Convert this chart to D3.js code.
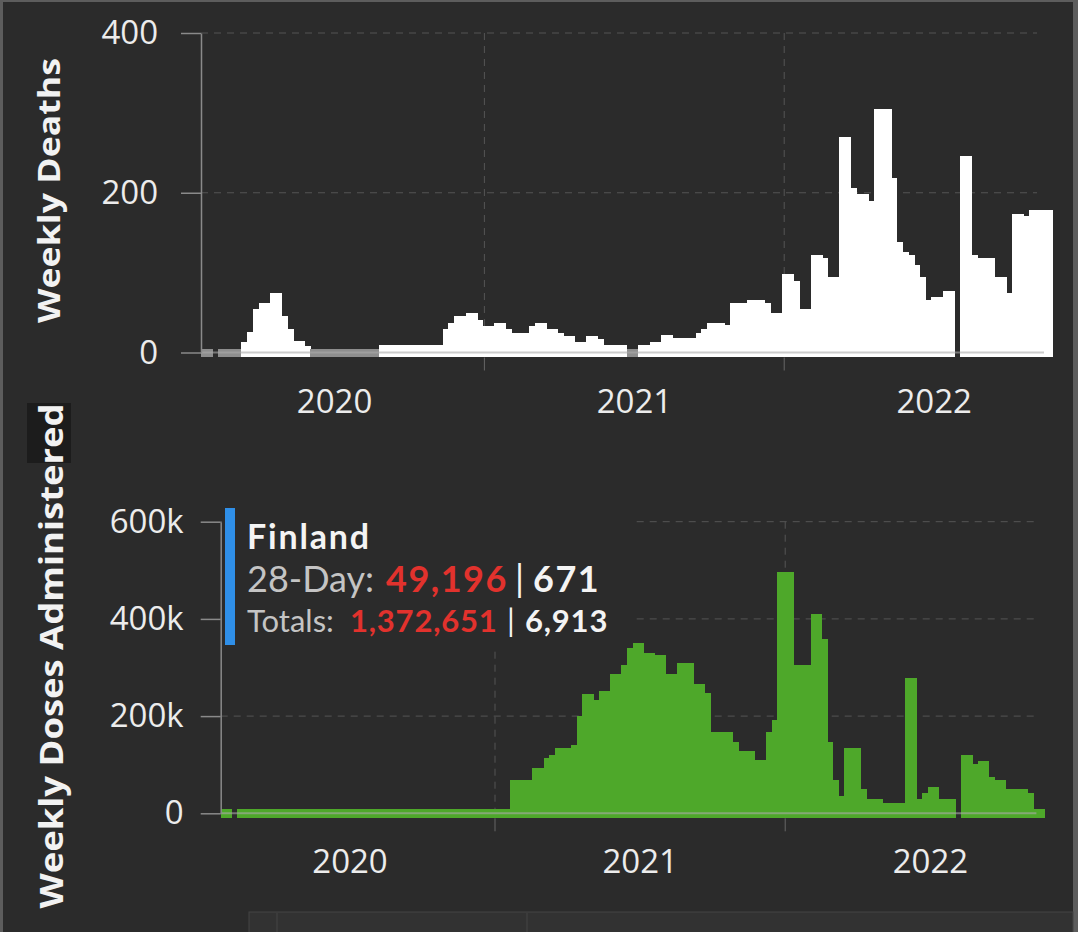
<!DOCTYPE html>
<html>
<head>
<meta charset="utf-8">
<script src="https://cdn.jsdelivr.net/npm/d3@7"></script>
<style>
    html, body { margin: 0; padding: 0; background: #5d5d5d; }
    svg { display: block; font-family: "Open Sans", sans-serif; }
</style>
</head>
<body>
<svg width="1078" height="932"></svg>
<script>
// weekly series, one value per week starting at firstWeek (null = no report)
var firstWeek = '2020-01-22';

var weeklyDeaths = [
    0, 0, null, 0, 0, 0, 0, 13, 26, 54,
    62, 62, 74, 74, 46, 29, 15, 15, 8, 0,
    0, 0, 0, 0, 0, 0, 0, 0, 0, 0,
    0, 9, 9, 9, 9, 9, 9, 9, 9, 9,
    9, 9, 30, 37, 46, 46, 50, 50, 41, 33,
    33, 37, 37, 29, 25, 25, 25, 33, 37, 37,
    30, 30, 25, 21, 21, 13, 13, 21, 21, 17,
    9, 9, 9, 9, 0, 0, 9, 9, 13, 13,
    22, 22, 18, 18, 18, 18, 24, 30, 37, 37,
    37, 34, 62, 62, 62, 66, 66, 66, 62, 50,
    50, 98, 98, 90, 54, 54, 122, 122, 118, 94,
    94, 270, 270, 206, 198, 198, 190, 305, 305, 305,
    218, 138, 126, 122, 109, 94, 66, 69, 69, 77,
    77, null, 246, 246, 122, 118, 118, 118, 94, 94,
    74, 174, 174, 171, 178, 178, 178, 178
];

var weeklyDoses = [
    0, 0, null, 0, 0, 0, 0, 0, 0, 0,
    0, 0, 0, 0, 0, 0, 0, 0, 0, 0,
    0, 0, 0, 0, 0, 0, 0, 0, 0, 0,
    0, 0, 0, 0, 0, 0, 0, 0, 0, 0,
    0, 0, 0, 0, 0, 0, 0, 0, 0, 0,
    0, 0, 68500, 68500, 68500, 68500, 94000, 94000, 113000, 120000,
    134000, 134000, 134000, 140000, 200000, 245000, 245000, 233000, 252000, 252000,
    286000, 286000, 305000, 350000, 350000, 350000, 330000, 330000, 326000, 326000,
    286000, 286000, 310000, 310000, 310000, 266000, 266000, 247000, 167000, 167000,
    167000, 167000, 147000, 129000, 129000, 129000, 110000, 110000, 167000, 193000,
    497000, 497000, 497000, 305000, 305000, 305000, 410000, 410000, 358000, 147000,
    68500, 35600, 134000, 134000, 134000, 49000, 28800, 28800, 28800, 21900,
    21900, 21900, 21900, 278000, 278000, 28800, 41000, 54700, 54700, 28800,
    28800, 28800, null, 120000, 120000, 101000, 107600, 107600, 75000, 68500,
    68500, 49000, 49000, 49000, 49000, 41000, 0, 0
];

var yearLabels = [2020, 2021, 2022];
var deathTicks = [0, 200, 400];
var doseTicks = [0, 200000, 400000, 600000];

var tooltipCountry = 'Finland';
var tooltipLabels = ['28-Day:', 'Totals:'];
var tooltipDoses = ['49,196', '1,372,651'];
var tooltipDeaths = ['671', '6,913'];

(function () {
    var svg = d3.select('svg');
    var bg = '#2b2b2b';
    var gridRight = 1037;

    var start = d3.timeParse('%Y-%m-%d')(firstWeek);
    var weeks = weeklyDeaths.map(function(d, i) {
        return d3.timeDay.offset(start, 7 * i);
    });
    var end = d3.timeDay.offset(start, 7 * weeks.length);

    // рамка и фон
    svg.append('rect')
        .attr('x', 3).attr('y', 2)
        .attr('width', 1070).attr('height', 930)
        .attr('fill', bg);

    drawPanel({
        values: weeklyDeaths,
        left: 201, right: 1052, top: 33, base: 352.5,
        max: 400, ticks: deathTicks, padding: 23,
        fill: '#ffffff', zeroFill: '#8e8e8e',
        format: function(d) { return d; }
    });

    drawPanel({
        values: weeklyDoses,
        left: 220.7, right: 1044.4, top: 521.7, base: 813.3,
        max: 600000, ticks: doseTicks, padding: 17,
        fill: '#4ea82a', zeroFill: '#4ea82a',
        format: function(d) { return d === 0 ? '0' : d / 1000 + 'k'; }
    });

    // подписи осей
    svg.append('text')
        .attr('transform', 'translate(60,190.5) rotate(-90)')
        .attr('text-anchor', 'middle')
        .attr('font-size', 31)
        .attr('font-weight', 'bold')
        .attr('fill', '#f2f2f2')
        .attr('textLength', 265)
        .attr('lengthAdjust', 'spacingAndGlyphs')
        .text('Weekly Deaths');

    svg.append('rect')
        .attr('x', 27).attr('y', 403)
        .attr('width', 44).attr('height', 60)
        .attr('fill', '#1c1c1c');

    svg.append('text')
        .attr('transform', 'translate(63,656) rotate(-90)')
        .attr('text-anchor', 'middle')
        .attr('font-size', 33)
        .attr('font-weight', 'bold')
        .attr('fill', '#f2f2f2')
        .attr('textLength', 505)
        .attr('lengthAdjust', 'spacingAndGlyphs')
        .text('Weekly Doses Administered');

    drawTooltip();

    // полоса интерфейса внизу
    var strip = svg.append('g');
    strip.append('rect')
        .attr('x', 249).attr('y', 912)
        .attr('width', 824).attr('height', 22)
        .attr('fill', '#323232')
        .attr('stroke', '#444');
    [277, 527].forEach(function(px) {
        strip.append('line')
            .attr('x1', px).attr('x2', px)
            .attr('y1', 913).attr('y2', 932)
            .attr('stroke', '#444');
    });

    function drawPanel(cfg) {
        var x = d3.scaleTime().domain([start, end]).range([cfg.left, cfg.right]);
        var y = d3.scaleLinear().domain([0, cfg.max]).range([cfg.base, cfg.top]);
        var g = svg.append('g');

        // сетка
        g.selectAll('line.hgrid')
            .data(cfg.ticks.filter(function(t) { return t > 0; }))
            .enter()
            .append('line')
            .attr('class', 'hgrid')
            .attr('x1', cfg.left).attr('x2', gridRight)
            .attr('y1', y).attr('y2', y)
            .attr('stroke', '#555')
            .attr('stroke-dasharray', '7,6');

        var yearStarts = yearLabels.map(function(yr) { return new Date(yr, 0, 1); })
            .filter(function(d) { return d > start && d < end; });

        g.selectAll('line.vgrid')
            .data(yearStarts)
            .enter()
            .append('line')
            .attr('class', 'vgrid')
            .attr('x1', x).attr('x2', x)
            .attr('y1', cfg.top).attr('y2', cfg.base)
            .attr('stroke', '#555')
            .attr('stroke-dasharray', '7,6');

        g.selectAll('line.vtick')
            .data(yearStarts)
            .enter()
            .append('line')
            .attr('class', 'vtick')
            .attr('x1', x).attr('x2', x)
            .attr('y1', cfg.base + 5).attr('y2', cfg.base + 18)
            .attr('stroke', '#666');

        // столбцы
        var rows = cfg.values.map(function(v, i) {
            return {date: weeks[i], next: d3.timeDay.offset(weeks[i], 7), value: v};
        }).filter(function(d) { return d.value !== null; });

        g.selectAll('rect.bar')
            .data(rows)
            .enter()
            .append('rect')
            .attr('class', 'bar')
            .attr('shape-rendering', 'crispEdges')
            .attr('x', function(d) { return x(d.date); })
            .attr('width', function(d) { return x(d.next) - x(d.date) + 0.5; })
            .attr('y', function(d) { return d.value > 0 ? y(d.value) : cfg.base - 4; })
            .attr('height', function(d) {
                var top = d.value > 0 ? y(d.value) : cfg.base - 4;
                return cfg.base + 4.5 - top;
            })
            .attr('fill', function(d) { return d.value > 0 ? cfg.fill : cfg.zeroFill; });

        // линия нуля поверх столбцов
        g.append('line')
            .attr('x1', cfg.left).attr('x2', cfg.right - 8)
            .attr('y1', cfg.base).attr('y2', cfg.base)
            .attr('stroke', '#aaa')
            .attr('stroke-opacity', 0.6)
            .attr('stroke-width', 2);

        var yAxis = g.append('g')
            .attr('transform', 'translate(' + cfg.left + ',0)')
            .call(d3.axisLeft(y)
                .tickValues(cfg.ticks)
                .tickSize(20)
                .tickSizeOuter(0)
                .tickPadding(cfg.padding)
                .tickFormat(cfg.format));
        yAxis.select('.domain').attr('stroke', '#8a8a8a').attr('stroke-width', 1.5);
        yAxis.selectAll('.tick line').attr('stroke', '#8a8a8a').attr('stroke-width', 1.5);
        yAxis.selectAll('.tick text')
            .attr('fill', '#ececec')
            .attr('font-size', 33)
            .attr('font-family', '"Open Sans", sans-serif');

        var xAxis = g.append('g')
            .attr('transform', 'translate(0,' + cfg.base + ')')
            .call(d3.axisBottom(x)
                .tickValues(yearLabels.map(function(yr) { return new Date(yr, 6, 2); }))
                .tickSize(0)
                .tickFormat(d3.timeFormat('%Y')));
        xAxis.select('.domain').remove();
        xAxis.selectAll('.tick text')
            .attr('y', 60)
            .attr('dy', null)
            .attr('fill', '#ececec')
            .attr('font-size', 33)
            .attr('font-family', '"Open Sans", sans-serif');
    }

    function drawTooltip() {
        var t = svg.append('g');
        t.append('rect')
            .attr('x', 222).attr('y', 503)
            .attr('width', 411).attr('height', 145)
            .attr('fill', bg);
        t.append('rect')
            .attr('x', 225).attr('y', 508)
            .attr('width', 10).attr('height', 137)
            .attr('fill', '#2f8fe8');

        // весь текст подсказки одним элементом, Lato - у него плотнее строки
        var text = t.append('text').attr('font-family', 'Lato, sans-serif');
        text.append('tspan')
            .attr('x', 247).attr('y', 549)
            .attr('font-size', 34)
            .attr('font-weight', 'bold')
            .attr('letter-spacing', 1.8)
            .attr('fill', '#f4f4f4')
            .text(tooltipCountry);

        var lines = [
            {y: 592, size: 36, xs: [247, 386, 515, 533], ls: 1.5},
            {y: 632, size: 31, xs: [247, 350, 507, 525], ls: 0.8}
        ];
        lines.forEach(function(l, i) {
            text.append('tspan')
                .attr('x', l.xs[0]).attr('y', l.y)
                .attr('font-size', l.size)
                .attr('fill', '#c4c4c4')
                .text(tooltipLabels[i]);
            text.append('tspan')
                .attr('x', l.xs[1]).attr('y', l.y)
                .attr('font-size', l.size)
                .attr('font-weight', 'bold')
                .attr('fill', '#e2322d')
                .attr('letter-spacing', l.ls)
                .text(tooltipDoses[i]);
            text.append('tspan')
                .attr('x', l.xs[2]).attr('y', l.y)
                .attr('font-size', l.size)
                .attr('fill', '#f4f4f4')
                .text('|');
            text.append('tspan')
                .attr('x', l.xs[3]).attr('y', l.y)
                .attr('font-size', l.size)
                .attr('font-weight', 'bold')
                .attr('fill', '#f4f4f4')
                .attr('letter-spacing', l.ls)
                .text(tooltipDeaths[i]);
        });
    }
}());
</script>
</body>
</html>
